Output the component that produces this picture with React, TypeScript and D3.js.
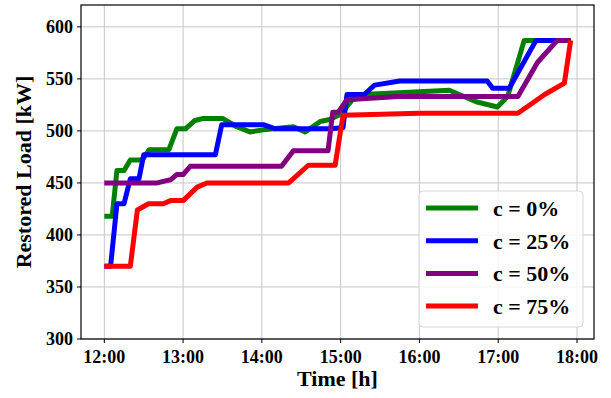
import React from 'react';
import * as d3 from 'd3';

// hours (decimal) and restored load [kW]
const greenTimes = [12.0, 12.1, 12.16, 12.25, 12.33, 12.48, 12.57, 12.82, 12.92, 13.03, 13.15, 13.26, 13.5, 13.68, 13.85, 14.02, 14.4, 14.55, 14.74, 14.86, 15.0, 15.15, 15.28, 16.13, 16.38, 16.72, 16.99, 17.12, 17.33, 17.92];
const greenLoad = [418, 418, 462, 462, 472, 472, 482, 482, 502, 502, 510, 512, 512, 504, 499, 501, 504, 499, 509, 511, 516, 530, 535, 538, 539, 528, 523, 533, 587, 587];

const blueTimes = [12.0, 12.08, 12.16, 12.25, 12.33, 12.44, 12.5, 13.41, 13.49, 14.02, 14.17, 14.86, 15.03, 15.08, 15.3, 15.43, 15.75, 16.86, 16.93, 17.14, 17.48, 17.92];
const blueLoad = [370, 370, 430, 430, 454, 454, 477, 477, 506, 506, 502, 502, 503, 535, 535, 544, 548, 548, 541, 541, 587, 587];

const purpleTimes = [12.0, 12.67, 12.84, 12.92, 13.0, 13.09, 14.25, 14.4, 14.84, 14.9, 14.97, 15.08, 15.73, 17.25, 17.5, 17.75, 17.92];
const purpleLoad = [450, 450, 453, 458, 458, 466, 466, 481, 481, 518, 518, 530, 533, 533, 566, 587, 587];

const redTimes = [12.0, 12.33, 12.42, 12.56, 12.75, 12.84, 13.0, 13.18, 13.3, 14.34, 14.59, 14.93, 15.03, 16.0, 17.25, 17.59, 17.84, 17.92];
const redLoad = [370, 370, 424, 430, 430, 433, 433, 446, 450, 450, 467, 467, 515, 517, 517, 535, 546, 587];

const seriesLabels = ['c = 0%', 'c = 25%', 'c = 50%', 'c = 75%'];
const seriesColors = ['#008000', '#0000ff', '#800080', '#ff0000'];

const xTicks = [12, 13, 14, 15, 16, 17, 18];
const xTickLabels = ['12:00', '13:00', '14:00', '15:00', '16:00', '17:00', '18:00'];
const yTicks = [300, 350, 400, 450, 500, 550, 600];

const W = 611;
const H = 398;
const margin = { top: 5, right: 17, bottom: 59, left: 81 };
const font = '"Liberation Serif", "Times New Roman", serif';

export default function App() {
  const series = [
    { times: greenTimes, load: greenLoad },
    { times: blueTimes, load: blueLoad },
    { times: purpleTimes, load: purpleLoad },
    { times: redTimes, load: redLoad },
  ].map((s, i) => ({
    label: seriesLabels[i],
    color: seriesColors[i],
    points: s.times.map((t, j) => [t, s.load[j]] as [number, number]),
  }));

  const tMin = 12.0;
  const tMax = 17.92;
  const pad = (tMax - tMin) * 0.05;
  const x = d3.scaleLinear()
    .domain([tMin - pad, tMax + pad])
    .range([margin.left, W - margin.right]);
  const y = d3.scaleLinear()
    .domain([300, 621])
    .range([H - margin.bottom, margin.top]);

  const line = d3.line<[number, number]>()
    .x(d => x(d[0]))
    .y(d => y(d[1]));

  const x0 = margin.left;
  const x1 = W - margin.right;
  const y0 = H - margin.bottom;
  const y1 = margin.top;

  // legend box
  const lg = { x: 419, y: 191, w: 164, h: 136 };
  const rowGap = 32.7;

  return (
    <svg width={W} height={H} style={{ position: 'absolute', left: 0, top: 0, background: '#fff' }}
      fontFamily={font} fontWeight="bold">
      {/* grid */}
      <g stroke="#c6c6c6" strokeWidth={1}>
        {xTicks.map(t => (
          <line key={'gx' + t} x1={x(t)} x2={x(t)} y1={y1} y2={y0} />
        ))}
        {yTicks.map(v => (
          <line key={'gy' + v} x1={x0} x2={x1} y1={y(v)} y2={y(v)} />
        ))}
      </g>

      {/* series */}
      {series.map(s => (
        <path key={s.label} d={line(s.points) || ''} fill="none" stroke={s.color}
          strokeWidth={5} strokeLinejoin="round" strokeLinecap="butt" />
      ))}

      {/* frame */}
      <rect x={x0} y={y1} width={x1 - x0} height={y0 - y1} fill="none" stroke="#000" strokeWidth={1.2} />

      {/* x axis */}
      {xTicks.map((t, i) => (
        <g key={'xt' + t}>
          <line x1={x(t)} x2={x(t)} y1={y0} y2={y0 + 4} stroke="#000" strokeWidth={1} />
          <text x={x(t)} y={362.5} textAnchor="middle" fontSize={18}>{xTickLabels[i]}</text>
        </g>
      ))}
      {/* y axis */}
      {yTicks.map(v => (
        <g key={'yt' + v}>
          <line x1={x0 - 4} x2={x0} y1={y(v)} y2={y(v)} stroke="#000" strokeWidth={1} />
          <text x={x0 - 8} y={y(v) + 6} textAnchor="end" fontSize={18}>{v}</text>
        </g>
      ))}

      <text x={(x0 + x1) / 2} y={386} textAnchor="middle" fontSize={22}>Time [h]</text>
      <text transform={`translate(31,${(y0 + y1) / 2}) rotate(-90)`} textAnchor="middle" fontSize={22}>
        Restored Load [kW]
      </text>

      {/* legend */}
      <rect x={lg.x} y={lg.y} width={lg.w} height={lg.h} rx={4} fill="#fff" fillOpacity={0.8}
        stroke="#d6d6d6" strokeWidth={1} />
      {series.map((s, i) => {
        const ly = lg.y + 17 + i * rowGap;
        return (
          <g key={'lg' + s.label}>
            <line x1={426} x2={478} y1={ly} y2={ly} stroke={s.color} strokeWidth={5} />
            <text x={493} y={ly + 8} fontSize={22}>{s.label}</text>
          </g>
        );
      })}
    </svg>
  );
}
